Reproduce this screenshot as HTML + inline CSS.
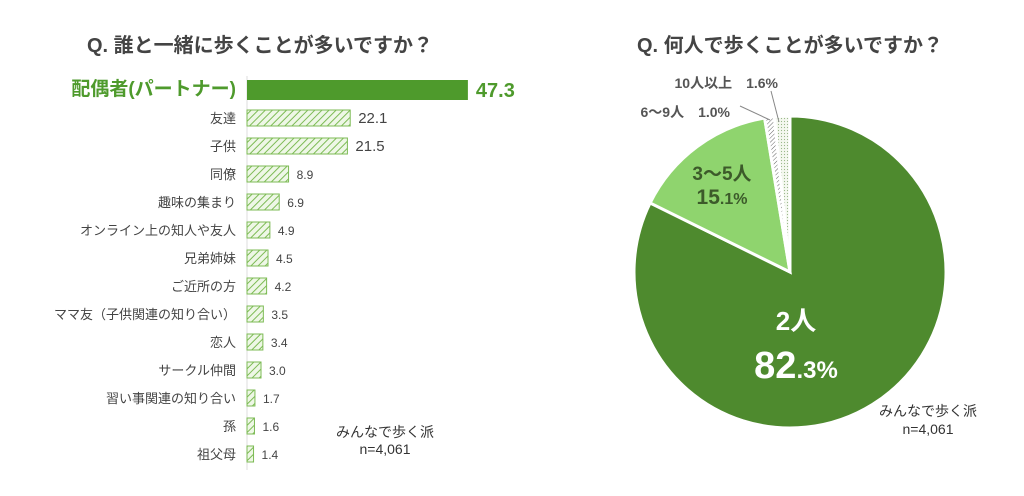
<!DOCTYPE html>
<html><head><meta charset="utf-8"><style>
body{margin:0;background:#fff;width:1024px;height:491px;overflow:hidden;font-family:"Liberation Sans","Noto Sans CJK JP",sans-serif;}
svg text{font-family:"Liberation Sans","Noto Sans CJK JP",sans-serif;}
</style></head><body>
<svg width="1024" height="491">
<defs>
<pattern id="hatch" patternUnits="userSpaceOnUse" width="5" height="5" patternTransform="rotate(45)">
<rect width="5" height="5" fill="#eef7e6"/><line x1="0" y1="0" x2="0" y2="5" stroke="#7dbb55" stroke-width="2"/></pattern>
<pattern id="hatch2" patternUnits="userSpaceOnUse" width="3" height="3" patternTransform="rotate(45)">
<rect width="3" height="3" fill="#fff"/><line x1="0" y1="0" x2="0" y2="3" stroke="#666" stroke-width="1"/></pattern>
<pattern id="dots" patternUnits="userSpaceOnUse" width="3" height="3">
<rect width="3" height="3" fill="#f4f8ef"/><circle cx="1.5" cy="1.5" r="0.6" fill="#9ab88a"/></pattern>
</defs>
<text x="260" y="52" text-anchor="middle" font-size="20" font-weight="bold" fill="#444">Q. 誰と一緒に歩くことが多いですか？</text>
<text x="790" y="52" text-anchor="middle" font-size="20" font-weight="bold" fill="#444">Q. 何人で歩くことが多いですか？</text>
<line x1="247" y1="76" x2="247" y2="470" stroke="#ddd"/>
<g id="bars"></g>
<text x="385" y="437" text-anchor="middle" font-size="14" fill="#333">みんなで歩く派</text>
<text x="385" y="454" text-anchor="middle" font-size="14" fill="#333">n=4,061</text>
<g id="pie"></g>
<text x="928" y="416" text-anchor="middle" font-size="14" fill="#333">みんなで歩く派</text>
<text x="928" y="434" text-anchor="middle" font-size="14" fill="#333">n=4,061</text>
</svg>
<script>
const categories=["配偶者(パートナー)","友達","子供","同僚","趣味の集まり","オンライン上の知人や友人","兄弟姉妹","ご近所の方","ママ友（子供関連の知り合い）","恋人","サークル仲間","習い事関連の知り合い","孫","祖父母"];
const values=[47.3,22.1,21.5,8.9,6.9,4.9,4.5,4.2,3.5,3.4,3.0,1.7,1.6,1.4];
const pieLabels=["2人","3〜5人","6〜9人","10人以上"];
const pieValues=[82.3,15.1,1.0,1.6];
const NS="http://www.w3.org/2000/svg";
function mk(t,a,p){const e=document.createElementNS(NS,t);for(const k in a)e.setAttribute(k,a[k]);p.appendChild(e);return e;}
const x0=247,sx=v=>v*4.67,yRow=i=>i===0?90:118+(i-1)*28;
const bg=document.getElementById('bars');
categories.forEach((c,i)=>{
 const y=yRow(i),first=i===0,h=first?20:16;
 const r=mk('rect',{x:x0,y:y-h/2,width:sx(values[i]),height:h,fill:first?'#4e9a2c':'url(#hatch)',stroke:first?'none':'#7dbb55'},bg);
 
 
 const l=mk('text',{x:first?236:236,y:y+5,'text-anchor':'end','font-size':first?19:13,'font-weight':first?'bold':'normal',fill:first?'#4e9a2c':'#444'},bg);
 l.textContent=c;
 
 
 const v=mk('text',{x:x0+sx(values[i])+(first?8:8),y:y+(first?7:5),'font-size':first?20:(values[i]>=10?15:12),'font-weight':first?'bold':'normal',fill:first?'#4e9a2c':'#444'},bg);
 v.textContent=values[i].toFixed(1);
 
 
});
const pg=document.getElementById('pie');
const cx=790,cy=272,R=156;
const fills=['#4e8a2e','#8fd46e','url(#hatch2)','url(#dots)'];
const tot=pieValues.reduce((a,b)=>a+b,0);
let a0=0;
pieValues.forEach((v,i)=>{
 const a1=a0+v/tot*2*Math.PI;
 const p=(a)=>[cx+R*Math.sin(a),cy-R*Math.cos(a)];
 const [x1,y1]=p(a0),[x2,y2]=p(a1);
 const s=mk('path',{d:`M${cx},${cy}L${x1},${y1}A${R},${R} 0 ${a1-a0>Math.PI?1:0} 1 ${x2},${y2}Z`,fill:fills[i],stroke:'#fff','stroke-width':3},pg);
 
 
 a0=a1;
});
function txt(x,y,s,sz,col,w,anc,name){const t=mk('text',{x:x,y:y,'font-size':sz,fill:col,'font-weight':w,'text-anchor':anc||'middle'},pg);t.innerHTML=s;}
txt(796,330,pieLabels[0],26,'#fff','bold','middle','slice-label-2');
txt(796,378,pieValues[0].toFixed(1).replace(/(\.\d)/,'<tspan font-size="24">$1%</tspan>'),38,'#fff','bold','middle','slice-value-2');
txt(722,180,pieLabels[1],19,'#3c5a2a','bold','middle','slice-label-3-5');
txt(722,204,'15<tspan font-size="16">.1%</tspan>',21,'#3c5a2a','bold','middle','slice-value-3-5');
txt(730,117,pieLabels[2]+'　'+pieValues[2].toFixed(1)+'%',14,'#555','bold','end','slice-label-6-9');
txt(778,88,pieLabels[3]+'　'+pieValues[3].toFixed(1)+'%',14,'#555','bold','end','slice-label-10');
mk('line',{x1:740,y1:106,x2:770,y2:120,stroke:'#888'},pg);
mk('line',{x1:771,y1:91,x2:779,y2:122,stroke:'#888'},pg);
</script>
</body></html>
